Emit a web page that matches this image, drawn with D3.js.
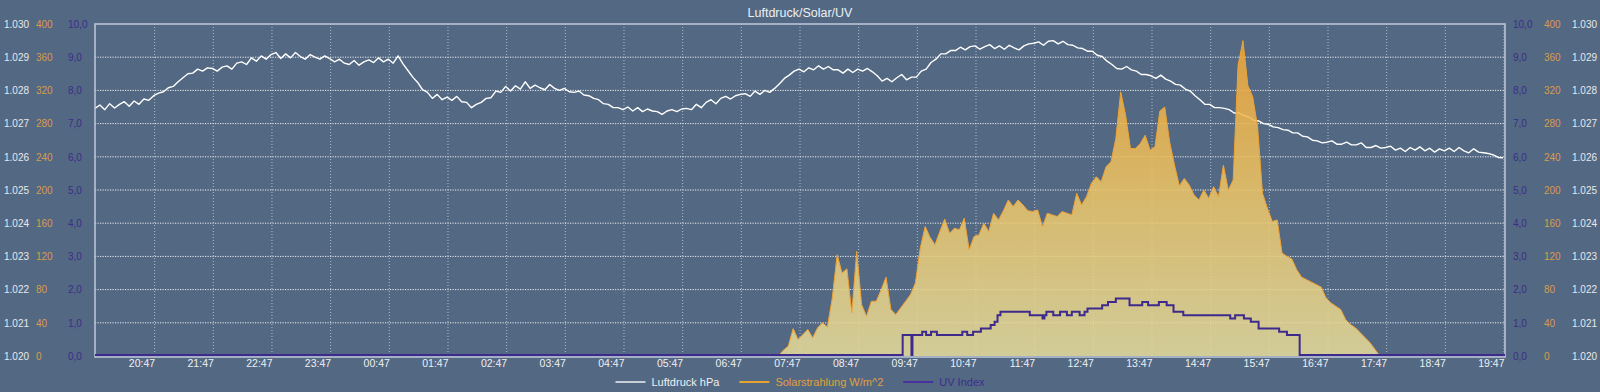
<!DOCTYPE html>
<html>
<head>
<meta charset="utf-8">
<script src="https://cdn.jsdelivr.net/npm/d3@7"></script>
<style>
  html, body { margin: 0; padding: 0; background: #536882; }
  svg { display: block; }
</style>
</head>
<body>
<svg id="chart"></svg>
<script>
// ---- data ----
const xDomain = ["2024-05-11 19:46", "2024-05-12 19:48"];
const xTickStart = "2024-05-11 20:47";
const xTickCount = 24;

// Luftdruck, one value every 5 minutes from 19:46 (one row = one hour)
const pressureStart = "2024-05-11 19:46";
const pressureStepMin = 5;
const pressureValues = [
  1027.46, 1027.56, 1027.42, 1027.60, 1027.47, 1027.58, 1027.66, 1027.52, 1027.68, 1027.58, 1027.74, 1027.70,
  1027.84, 1027.92, 1027.96, 1028.08, 1028.12, 1028.26, 1028.38, 1028.50, 1028.52, 1028.64, 1028.58, 1028.68,
  1028.66, 1028.58, 1028.70, 1028.74, 1028.64, 1028.82, 1028.86, 1028.78, 1028.98, 1028.88, 1029.04, 1028.94,
  1029.08, 1029.14, 1028.96, 1029.10, 1028.98, 1029.14, 1029.02, 1028.94, 1029.08, 1029.00, 1028.94, 1029.04,
  1028.96, 1028.86, 1028.94, 1028.82, 1028.78, 1028.90, 1028.76, 1028.86, 1028.92, 1028.84, 1028.98, 1028.86,
  1028.94, 1028.82, 1029.04, 1028.80, 1028.60, 1028.40, 1028.24, 1028.02, 1027.94, 1027.76, 1027.88, 1027.72,
  1027.80, 1027.70, 1027.82, 1027.66, 1027.64, 1027.48, 1027.58, 1027.64, 1027.76, 1027.78, 1027.98, 1027.94,
  1028.12, 1027.98, 1028.14, 1028.04, 1028.26, 1028.06, 1028.16, 1028.08, 1028.02, 1028.18, 1028.06, 1028.00,
  1028.06, 1027.96, 1027.94, 1027.98, 1027.86, 1027.84, 1027.76, 1027.72, 1027.60, 1027.58, 1027.48, 1027.48,
  1027.42, 1027.50, 1027.38, 1027.48, 1027.36, 1027.44, 1027.38, 1027.36, 1027.28, 1027.38, 1027.42, 1027.36,
  1027.44, 1027.46, 1027.42, 1027.58, 1027.48, 1027.64, 1027.72, 1027.60, 1027.76, 1027.82, 1027.74, 1027.84,
  1027.88, 1027.90, 1027.82, 1027.98, 1027.88, 1028.00, 1027.94, 1028.06, 1028.20, 1028.36, 1028.46, 1028.58,
  1028.64, 1028.56, 1028.68, 1028.62, 1028.74, 1028.64, 1028.72, 1028.62, 1028.62, 1028.52, 1028.64, 1028.54,
  1028.64, 1028.58, 1028.66, 1028.56, 1028.44, 1028.28, 1028.36, 1028.26, 1028.38, 1028.48, 1028.32, 1028.40,
  1028.40, 1028.58, 1028.64, 1028.84, 1028.94, 1029.10, 1029.10, 1029.20, 1029.20, 1029.30, 1029.22, 1029.32,
  1029.34, 1029.24, 1029.32, 1029.38, 1029.26, 1029.34, 1029.24, 1029.36, 1029.28, 1029.22, 1029.34, 1029.40,
  1029.42, 1029.46, 1029.36, 1029.48, 1029.50, 1029.40, 1029.48, 1029.38, 1029.36, 1029.28, 1029.26, 1029.18,
  1029.18, 1029.06, 1029.02, 1028.88, 1028.78, 1028.66, 1028.64, 1028.72, 1028.62, 1028.58, 1028.48, 1028.48,
  1028.44, 1028.36, 1028.46, 1028.34, 1028.28, 1028.18, 1028.16, 1028.04, 1027.98, 1027.84, 1027.72, 1027.58,
  1027.58, 1027.48, 1027.48, 1027.46, 1027.42, 1027.32, 1027.32, 1027.24, 1027.20, 1027.10, 1027.08, 1027.00,
  1026.98, 1026.90, 1026.88, 1026.82, 1026.80, 1026.72, 1026.72, 1026.62, 1026.60, 1026.50, 1026.48, 1026.42,
  1026.44, 1026.48, 1026.38, 1026.38, 1026.44, 1026.36, 1026.36, 1026.42, 1026.28, 1026.28, 1026.34, 1026.26,
  1026.28, 1026.32, 1026.20, 1026.26, 1026.16, 1026.28, 1026.20, 1026.30, 1026.18, 1026.26, 1026.14, 1026.24,
  1026.18, 1026.26, 1026.16, 1026.28, 1026.18, 1026.12, 1026.24, 1026.14, 1026.12, 1026.10, 1026.06, 1025.98,
  1025.97
];

// Solarstrahlung W/m^2, every 5 minutes from 07:25
const solarStart = "2024-05-12 07:25";
const solarStepMin = 5;
const solarValues = [
  0, 7, 12, 33, 20, 26, 32,
  22, 34, 40, 35, 70, 122, 100, 105, 52, 126, 62, 48,
  66, 66, 80, 95, 56, 50, 58, 66, 74, 88, 130, 156,
  143, 134, 150, 165, 148, 154, 152, 166, 128, 144, 146, 160,
  150, 172, 164, 175, 188, 180, 188, 182, 175, 174, 176, 156,
  172, 170, 168, 174, 172, 170, 196, 182, 192, 208, 216, 210,
  228, 234, 262, 318, 290, 250, 250, 256, 266, 248, 252, 295,
  300, 258, 230, 205, 214, 206, 194, 188, 200, 190, 204, 192,
  230, 200, 212, 350, 380, 326, 312, 276, 196, 178, 162, 164,
  124, 120, 117, 104, 95, 92, 89, 86, 83, 70, 64, 60,
  56, 44, 38, 34, 28, 22, 16, 8, 0
];

// UV Index (step changes)
const uvTimes = [
  "2024-05-11 19:46", "2024-05-12 09:32", "2024-05-12 09:41", "2024-05-12 09:42", "2024-05-12 09:52",
  "2024-05-12 09:56", "2024-05-12 10:01", "2024-05-12 10:07", "2024-05-12 10:33", "2024-05-12 10:38",
  "2024-05-12 10:44", "2024-05-12 10:52", "2024-05-12 11:02", "2024-05-12 11:06", "2024-05-12 11:09",
  "2024-05-12 11:12", "2024-05-12 11:42", "2024-05-12 11:55", "2024-05-12 11:57", "2024-05-12 11:59",
  "2024-05-12 12:06", "2024-05-12 12:13", "2024-05-12 12:20", "2024-05-12 12:25", "2024-05-12 12:33",
  "2024-05-12 12:38", "2024-05-12 12:41", "2024-05-12 12:56", "2024-05-12 13:02", "2024-05-12 13:10",
  "2024-05-12 13:24", "2024-05-12 13:37", "2024-05-12 13:43", "2024-05-12 13:54", "2024-05-12 14:02",
  "2024-05-12 14:09", "2024-05-12 14:19", "2024-05-12 15:07", "2024-05-12 15:12", "2024-05-12 15:21",
  "2024-05-12 15:28", "2024-05-12 15:36", "2024-05-12 15:57", "2024-05-12 16:05", "2024-05-12 16:18",
  "2024-05-12 19:48"
];
const uvValues = [
  0, 0.6, 0, 0.6, 0.7,
  0.6, 0.7, 0.6, 0.7, 0.6,
  0.7, 0.8, 0.9, 1.0, 1.2,
  1.3, 1.2, 1.1, 1.2, 1.3,
  1.2, 1.3, 1.2, 1.3, 1.2,
  1.3, 1.4, 1.5, 1.6, 1.7,
  1.5, 1.6, 1.5, 1.6, 1.5,
  1.3, 1.2, 1.1, 1.2, 1.1,
  1.0, 0.8, 0.7, 0.6, 0,
  0
];

const pressureTicks = [1020, 1021, 1022, 1023, 1024, 1025, 1026, 1027, 1028, 1029, 1030];
const solarTicks = [0, 40, 80, 120, 160, 200, 240, 280, 320, 360, 400];
const uvTicks = [0, 1, 2, 3, 4, 5, 6, 7, 8, 9, 10];

const chartTitle = "Luftdruck/Solar/UV";
const legendLabels = ["Luftdruck hPa", "Solarstrahlung W/m^2", "UV Index"];

// ---- layout & styles ----
const width = 1600, height = 392;
const plotL = 95, plotR = 1505, plotT = 24, plotB = 356;
const fontFamily = "'Liberation Sans', Arial, sans-serif";
const colPressure = "#ffffff", colPressureText = "#e6e9ee";
const colSolar = "#f0a232", colSolarText = "#d99c4c";
const colUV = "#3d2a8c", colUVText = "#3b2d8a";

const parse = d3.timeParse("%Y-%m-%d %H:%M");
const de = d3.formatLocale({ decimal: ",", thousands: ".", grouping: [3], currency: ["", " €"] });

const svg = d3.select("#chart").attr("width", width).attr("height", height);

const x = d3.scaleTime().domain(xDomain.map(parse)).range([plotL, plotR]);
const yP = d3.scaleLinear().domain(d3.extent(pressureTicks)).range([plotB, plotT]);
const yS = d3.scaleLinear().domain(d3.extent(solarTicks)).range([plotB, plotT]);
const yU = d3.scaleLinear().domain(d3.extent(uvTicks)).range([plotB, plotT]);

const pressureData = pressureValues.map((v, i) => ({ t: d3.timeMinute.offset(parse(pressureStart), i * pressureStepMin), v }));
const solarData = solarValues.map((v, i) => ({ t: d3.timeMinute.offset(parse(solarStart), i * solarStepMin), v }));
const uvData = uvTimes.map((s, i) => ({ t: parse(s), v: uvValues[i] }));
const xTicks = d3.range(xTickCount).map(i => d3.timeHour.offset(parse(xTickStart), i));

// gradient for the solar area
const defs = svg.append("defs");
const grad = defs.append("linearGradient")
    .attr("id", "solarFill")
    .attr("gradientUnits", "userSpaceOnUse")
    .attr("x1", 0).attr("x2", 0)
    .attr("y1", yS(380)).attr("y2", plotB);
grad.append("stop").attr("offset", "0%").attr("stop-color", "#f2a634");
grad.append("stop").attr("offset", "45%").attr("stop-color", "#eec463");
grad.append("stop").attr("offset", "100%").attr("stop-color", "#e6dc9c");

// title
svg.append("text")
    .attr("x", 800).attr("y", 17)
    .attr("text-anchor", "middle")
    .attr("font-family", fontFamily)
    .attr("font-size", 12.5)
    .attr("fill", "#eef0f4")
    .text(chartTitle);

// grid
const grid = svg.append("g");
grid.selectAll("line.h")
    .data(uvTicks.slice(1, -1))
    .enter().append("line")
    .attr("class", "h")
    .attr("x1", plotL).attr("x2", plotR)
    .attr("y1", d => yU(d)).attr("y2", d => yU(d))
    .attr("stroke", "#ffffff").attr("stroke-opacity", 0.9)
    .attr("stroke-width", 1)
    .attr("stroke-dasharray", "1.2,1.3");
grid.selectAll("line.v")
    .data(xTicks)
    .enter().append("line")
    .attr("class", "v")
    .attr("x1", d => x(d)).attr("x2", d => x(d))
    .attr("y1", plotT).attr("y2", plotB)
    .attr("stroke", "#ffffff").attr("stroke-opacity", 0.55)
    .attr("stroke-width", 1)
    .attr("stroke-dasharray", "1,2");

// Luftdruck line
svg.append("path")
    .datum(pressureData)
    .attr("fill", "none")
    .attr("stroke", colPressure)
    .attr("stroke-width", 1.4)
    .attr("stroke-linejoin", "round")
    .attr("d", d3.line().x(d => x(d.t)).y(d => yP(d.v)));

// Solar area + line
svg.append("path")
    .datum(solarData)
    .attr("fill", "url(#solarFill)")
    .attr("fill-opacity", 0.86)
    .attr("d", d3.area().x(d => x(d.t)).y0(plotB).y1(d => yS(d.v)));
svg.append("path")
    .datum(solarData)
    .attr("fill", "none")
    .attr("stroke", colSolar)
    .attr("stroke-width", 1)
    .attr("d", d3.line().x(d => x(d.t)).y(d => yS(d.v)));

// frame
svg.append("rect")
    .attr("x", plotL).attr("y", plotT)
    .attr("width", plotR - plotL).attr("height", plotB - plotT + 1)
    .attr("fill", "none")
    .attr("stroke", "#b9c3d6")
    .attr("stroke-width", 1.6);

// UV line
svg.append("path")
    .datum(uvData)
    .attr("fill", "none")
    .attr("stroke", colUV)
    .attr("stroke-width", 2)
    .attr("d", d3.line().curve(d3.curveStepAfter).x(d => x(d.t)).y(d => yU(d.v) - 1));

// y axes: three columns on each side, labels left-aligned
function yColumn(scale, ticks, fmt, xPos, color) {
    const g = svg.append("g")
        .attr("transform", `translate(${xPos},0)`)
        .call(d3.axisRight(scale).tickValues(ticks).tickFormat(fmt).tickSize(0).tickPadding(0));
    g.select(".domain").remove();
    g.selectAll("text")
        .attr("font-family", fontFamily)
        .attr("font-size", 10)
        .attr("fill", color);
}
const fmtP = de.format(",d"), fmtS = de.format("d"), fmtU = de.format(".1f");
yColumn(yP, pressureTicks, fmtP, 4, colPressureText);
yColumn(yS, solarTicks, fmtS, 36, colSolarText);
yColumn(yU, uvTicks, fmtU, 68, colUVText);
yColumn(yU, uvTicks, fmtU, 1513, colUVText);
yColumn(yS, solarTicks, fmtS, 1544, colSolarText);
yColumn(yP, pressureTicks, fmtP, 1572, colPressureText);

// x axis
const xAxis = svg.append("g")
    .attr("transform", `translate(0,${plotB})`)
    .call(d3.axisBottom(x).tickValues(xTicks).tickFormat(d3.timeFormat("%H:%M")).tickSize(0).tickPadding(4));
xAxis.select(".domain").remove();
xAxis.selectAll("text")
    .attr("text-anchor", "end")
    .attr("font-family", fontFamily)
    .attr("font-size", 10.5)
    .attr("fill", "#eef0f4");

// legend
const legendColors = ["#c9ced8", "#e8a232", "#4a2f9e"];
const legendTextColors = ["#eef0f4", "#e0a040", "#3f2d90"];
const legend = svg.append("g");
let lx = 0;
legendLabels.forEach((label, i) => {
    const item = legend.append("g").attr("transform", `translate(${lx},0)`);
    item.append("line")
        .attr("x1", 0).attr("x2", 30).attr("y1", 0).attr("y2", 0)
        .attr("stroke", legendColors[i]).attr("stroke-width", 2);
    const t = item.append("text")
        .attr("x", 36).attr("y", 4)
        .attr("font-family", fontFamily)
        .attr("font-size", 11)
        .attr("fill", legendTextColors[i])
        .text(label);
    lx += 36 + t.node().getComputedTextLength() + 20;
});
const legendW = lx - 20;
legend.attr("transform", `translate(${(800 - legendW / 2).toFixed(1)},382)`);
</script>
</body>
</html>
